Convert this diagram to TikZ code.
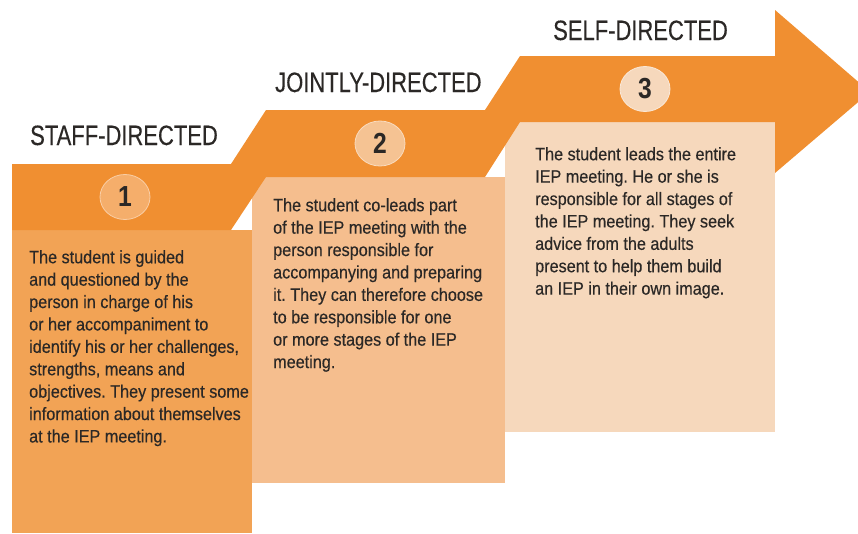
\documentclass[tikz,border=0pt]{standalone}
\usepackage{fontspec}
\setmainfont{Liberation Sans}
\newfontfamily\bodyfont{Liberation Sans}[FakeStretch=0.9, FakeBold=0.35]
\newfontfamily\headfont{Liberation Sans}[FakeStretch=0.785, FakeBold=0.3]
\newfontfamily\numfont{Liberation Sans}[FakeStretch=0.85]

\definecolor{band}{HTML}{F08F31}
\definecolor{boxA}{HTML}{F2A355}
\definecolor{boxB}{HTML}{F5BE8E}
\definecolor{boxC}{HTML}{F6D8BC}
\definecolor{ringA}{HTML}{F5AE6B}
\definecolor{ringB}{HTML}{F5C393}
\definecolor{ringC}{HTML}{F6D8BC}
\definecolor{ink}{HTML}{2B2826}

\tikzset{
  heading/.style={anchor=base west, inner sep=0pt, text=ink,
    font=\headfont\fontsize{28}{30}\selectfont},
  bodytext/.style={anchor=north west, inner sep=0pt, text=ink, align=left,
    font=\bodyfont\fontsize{18}{22.4}\selectfont\frenchspacing},
  stepnum/.style={ellipse, minimum width=50pt, minimum height=45pt,
    inner sep=0pt, line width=0.8pt, text=ink,
    font=\numfont\bfseries\fontsize{29}{30}\selectfont},
}
\usetikzlibrary{shapes.geometric}

\begin{document}
\begin{tikzpicture}[x=1pt, y=-1pt]
\useasboundingbox (0,0) rectangle (858,533);
\clip (0,0) rectangle (858,533);

% text panels below the staircase band
\fill[boxA] (12,230) rectangle (252,533);
\fill[boxB] (252,177) rectangle (505,483);
\fill[boxC] (505,122) rectangle (775,432);

% staircase band ending in an arrowhead
\fill[band] (12,164) -- (231,164) -- (266,110) -- (485,110) -- (520,56)
  -- (775,56) -- (775,10) -- (870,92) -- (775,173) -- (775,122)
  -- (520,122) -- (485,177) -- (266,177) -- (231,230) -- (12,230) -- cycle;

% step numbers
\node[stepnum, fill=ringA, draw=ringA!60!white] (n1) at (125,197) {1};
\node[stepnum, fill=ringB, draw=ringB!60!white] (n2) at (380,143.5) {2};
\node[stepnum, fill=ringC, draw=ringC!60!white] (n3) at (645,89) {3};

% step titles
\node[heading] (h1) at (30,145) {STAFF-DIRECTED};
\node[heading] (h2) at (275,92) {JOINTLY-DIRECTED};
\node[heading] (h3) at (553,40) {SELF-DIRECTED};

% step descriptions
\node[bodytext] (t1) at (29,250) {The student is guided\\
and questioned by the\\
person in charge of his\\
or her accompaniment to\\
identify his or her challenges,\\
strengths, means and\\
objectives. They present some\\
information about themselves\\
at the IEP meeting.};

\node[bodytext] (t2) at (273,198) {The student co-leads part\\
of the IEP meeting with the\\
person responsible for\\
accompanying and preparing\\
it. They can therefore choose\\
to be responsible for one\\
or more stages of the IEP\\
meeting.};

\node[bodytext] (t3) at (535,147) {The student leads the entire\\
IEP meeting. He or she is\\
responsible for all stages of\\
the IEP meeting. They seek\\
advice from the adults\\
present to help them build\\
an IEP in their own image.};
\end{tikzpicture}
\end{document}
